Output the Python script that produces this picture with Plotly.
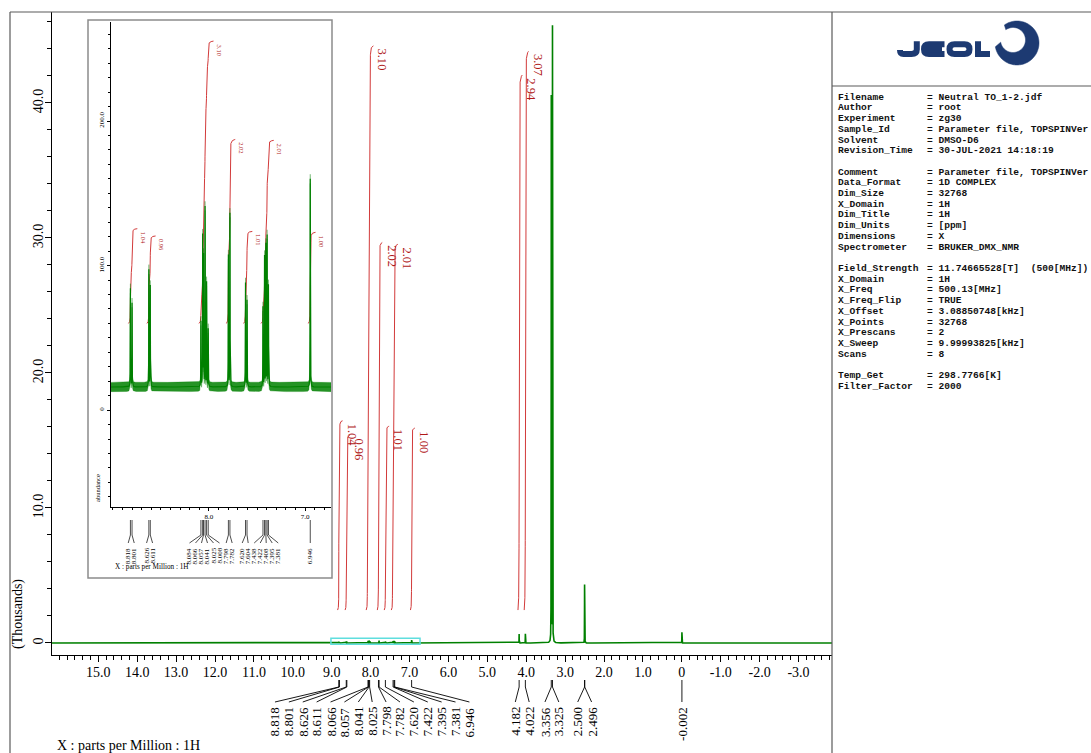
import numpy as np
import plotly.graph_objects as go

W, H = 1091, 753


def px(x):
    return x / W


def py(y):
    return 1 - y / H


# ---------------- data ----------------
# aromatic lines (ppm) and their heights in the expansion's abundance units
AROM_PPM = [8.818, 8.801, 8.626, 8.611, 8.084, 8.066, 8.057, 8.041, 8.025, 8.008,
            7.798, 7.782, 7.620, 7.604, 7.438, 7.422, 7.408, 7.395, 7.381, 6.946]
AROM_ABUND = [68, 58, 81, 70, 45, 104, 90, 124, 72, 40,
              91, 120, 72, 60, 55, 90, 98, 104, 70, 144]

# remaining lines (ppm) with heights in thousands
ALIPH_PPM = [4.182, 4.022, 3.356, 3.325, 2.500, 2.496, -0.002]
ALIPH_HEIGHT_K = [0.66, 0.68, 40.4, 45.6, 3.9, 3.5, 0.8]
ALIPH_HWHM = [0.0015, 0.0015, 0.002, 0.002, 0.0015, 0.0015, 0.0015]

# integral regions and values
INT_MEMBERS = [
    [8.818, 8.801],
    [8.626, 8.611],
    [8.084, 8.066, 8.057, 8.041, 8.025, 8.008],
    [7.798, 7.782],
    [7.620, 7.604],
    [7.438, 7.422, 7.408, 7.395, 7.381],
    [6.946],
    [4.182],
    [4.022],
]
INT_VALUES = [1.04, 0.96, 3.10, 2.02, 1.01, 2.01, 1.00, 2.94, 3.07]

# picked peaks labelled under the full spectrum
MAIN_PEAK_LABELS = [8.818, 8.801, 8.626, 8.611, 8.066, 8.057, 8.041, 8.025,
                    7.798, 7.782, 7.620, 7.422, 7.395, 7.381, 6.946,
                    4.182, 4.022, 3.356, 3.325, 2.500, 2.496, -0.002]
# picked peaks labelled under the expansion
INSET_PEAK_LABELS = AROM_PPM

# axis ticks
X_TICKS = [15, 14, 13, 12, 11, 10, 9, 8, 7, 6, 5, 4, 3, 2, 1, 0, -1, -2, -3]
X_TICK_TEXT = ["15.0", "14.0", "13.0", "12.0", "11.0", "10.0", "9.0", "8.0", "7.0",
               "6.0", "5.0", "4.0", "3.0", "2.0", "1.0", "0", "-1.0", "-2.0", "-3.0"]
Y_TICKS = [0, 10, 20, 30, 40]
Y_TICK_TEXT = ["0", "10.0", "20.0", "30.0", "40.0"]
INSET_X_TICKS = [8.0, 7.0]
INSET_X_TICK_TEXT = ["8.0", "7.0"]
INSET_Y_TICKS = [0, 100, 200]
INSET_Y_TICK_TEXT = ["0", "100.0", "200.0"]

PARAM_LINES = [
    ("Filename", "Neutral TO_1-2.jdf"),
    ("Author", "root"),
    ("Experiment", "zg30"),
    ("Sample_Id", "Parameter file, TOPSPINVer"),
    ("Solvent", "DMSO-D6"),
    ("Revision_Time", "30-JUL-2021 14:18:19"),
    None,
    ("Comment", "Parameter file, TOPSPINVer"),
    ("Data_Format", "1D COMPLEX"),
    ("Dim_Size", "32768"),
    ("X_Domain", "1H"),
    ("Dim_Title", "1H"),
    ("Dim_Units", "[ppm]"),
    ("Dimensions", "X"),
    ("Spectrometer", "BRUKER_DMX_NMR"),
    None,
    ("Field_Strength", "11.74665528[T]\u00a0 (500[MHz])"),
    ("X_Domain", "1H"),
    ("X_Freq", "500.13[MHz]"),
    ("X_Freq_Flip", "TRUE"),
    ("X_Offset", "3.08850748[kHz]"),
    ("X_Points", "32768"),
    ("X_Prescans", "2"),
    ("X_Sweep", "9.99993825[kHz]"),
    ("Scans", "8"),
    None,
    ("Temp_Get", "298.7766[K]"),
    ("Filter_Factor", "2000"),
]

# ---------------- settings ----------------
AROM_HWHM = 0.0012
ABUND_TO_K = 0.0015          # expansion abundance -> thousands
INSET_BASELINE = 16
INSET_NOISE = 3.2
MAIN_XRANGE = [16.19, -3.86]
MAIN_YRANGE = [-0.89, 46.74]
INSET_XRANGE = [9.02, 6.73]
INSET_YRANGE = [-67, 268.5]
INT_BASE_K, INT_UNIT_K = 2.44, 13.48
INT_BASE_AB, INT_UNIT_AB = 60, 63

GREEN = "rgb(0,128,0)"
RED_LINE = "#d23a3a"
RED_TEXT = "#b01818"
SERIF = "Liberation Serif"
MONO = "Liberation Mono"
NAVY = "#1d3a72"

# lookup table of every line: ppm -> (height in thousands, hwhm)
LINES = {}
for p, a in zip(AROM_PPM, AROM_ABUND):
    LINES[p] = (a * ABUND_TO_K, AROM_HWHM)
for p, h, w in zip(ALIPH_PPM, ALIPH_HEIGHT_K, ALIPH_HWHM):
    LINES[p] = (h, w)


def lorentz(x, c, h, w):
    return h * w * w / ((x - c) ** 2 + w * w)


def sample_grid(lo_hi, centers, n):
    grid = [np.linspace(lo_hi[0], lo_hi[1], n)]
    for c in centers:
        grid.append(c + np.linspace(-0.02, 0.02, 81))
        grid.append(np.array([c]))
    g = np.unique(np.concatenate(grid))
    g = g[(g <= max(lo_hi)) & (g >= min(lo_hi))]
    return g[::-1]


def integral_curve(members, value, base, unit, pad_hi, pad_lo):
    hi = max(members) + pad_hi
    lo = min(members) - pad_lo
    xs = np.linspace(hi, lo, 400)
    cum = np.zeros_like(xs)
    for c in members:
        h, w = LINES[c]
        cum += h * w * (np.arctan((hi - c) / w) - np.arctan((xs - c) / w))
    frac = cum / cum[-1]
    return xs, base + unit * value * frac, lo


def spread(values, gap):
    """Push label positions apart (ppm, descending) keeping each cluster centred."""
    q = [-v for v in values]
    order = sorted(range(len(q)), key=lambda i: q[i])
    groups = [[i] for i in order]

    def start(g):
        return float(np.mean([q[i] for i in g])) - gap * (len(g) - 1) / 2

    while True:
        changed = False
        merged = []
        for g in groups:
            if merged:
                prev = merged[-1]
                prev_end = start(prev) + gap * (len(prev) - 1)
                if start(g) < prev_end + gap - 1e-9:
                    merged[-1] = prev + g
                    changed = True
                    continue
            merged.append(g)
        groups = merged
        if not changed:
            break
    out = [0.0] * len(q)
    for g in groups:
        s = start(g)
        for k, i in enumerate(g):
            out[i] = -(s + gap * k)
    return out


fig = go.Figure()

# ---------------- full spectrum ----------------
ppm_main = sample_grid(MAIN_XRANGE, list(LINES.keys()), 6001)
y_main = np.zeros_like(ppm_main)
for c, (h, w) in LINES.items():
    y_main += lorentz(ppm_main, c, h, w)

fig.add_trace(go.Scatter(x=ppm_main, y=y_main, mode="lines",
                         line=dict(color=GREEN, width=1.6),
                         xaxis="x", yaxis="y", hoverinfo="skip", showlegend=False))

annotations = []
shapes = []

# integrals on the full spectrum
for members, val in zip(INT_MEMBERS, INT_VALUES):
    xs, ys, lo = integral_curve(members, val, INT_BASE_K, INT_UNIT_K, 0.03, 0.08)
    fig.add_trace(go.Scatter(x=xs, y=ys, mode="lines",
                             line=dict(color=RED_LINE, width=1),
                             xaxis="x", yaxis="y", hoverinfo="skip", showlegend=False))
    annotations.append(dict(x=lo, y=ys[-1], xref="x", yref="y", text=f"{val:.2f}",
                            showarrow=False, textangle=90, xanchor="left", yanchor="top",
                            yshift=-1, font=dict(family=SERIF, size=12.5, color=RED_TEXT)))

# ---------------- expansion ----------------
ppm_in = sample_grid(INSET_XRANGE, AROM_PPM, 3001)
y_in = np.full_like(ppm_in, float(INSET_BASELINE))
for c in AROM_PPM:
    h, w = LINES[c]
    y_in += lorentz(ppm_in, c, h / ABUND_TO_K, w)

for members, val in zip(INT_MEMBERS, INT_VALUES):
    if min(members) < INSET_XRANGE[1]:
        continue
    xs, ys, lo = integral_curve(members, val, INT_BASE_AB, INT_UNIT_AB, 0.02, 0.055)
    fig.add_trace(go.Scatter(x=xs, y=ys, mode="lines",
                             line=dict(color=RED_LINE, width=1),
                             xaxis="x2", yaxis="y2", hoverinfo="skip", showlegend=False))
    annotations.append(dict(x=lo, y=ys[-1], xref="x2", yref="y2", text=f"{val:.2f}",
                            showarrow=False, textangle=90, xanchor="left", yanchor="top",
                            yshift=-1, font=dict(family=SERIF, size=6.5, color=RED_TEXT)))

# noise envelope of the expansion trace
fig.add_trace(go.Scatter(x=np.concatenate([ppm_in, ppm_in[::-1]]),
                         y=np.concatenate([y_in + INSET_NOISE, (y_in - INSET_NOISE)[::-1]]),
                         mode="lines", fill="toself", fillcolor="rgba(0,128,0,0.85)",
                         line=dict(color="rgba(0,128,0,0.6)", width=0.5),
                         xaxis="x2", yaxis="y2", hoverinfo="skip", showlegend=False))
fig.add_trace(go.Scatter(x=ppm_in, y=y_in, mode="lines",
                         line=dict(color=GREEN, width=1.2),
                         xaxis="x2", yaxis="y2", hoverinfo="skip", showlegend=False))

# ---------------- peak labels under the full spectrum ----------------
main_pos = spread(MAIN_PEAK_LABELS, 0.357)
for p, lp in zip(MAIN_PEAK_LABELS, main_pos):
    shapes.append(dict(type="line", xref="x", yref="paper", x0=p, x1=p,
                       y0=py(680), y1=py(687), line=dict(color="black", width=0.9)))
    shapes.append(dict(type="line", xref="x", yref="paper", x0=p, x1=lp,
                       y0=py(687), y1=py(702), line=dict(color="black", width=0.9)))
    annotations.append(dict(x=lp, y=py(705), xref="x", yref="paper", text=f"{p:.3f}",
                            showarrow=False, textangle=-90, xanchor="center", yanchor="top",
                            font=dict(family=SERIF, size=13, color="black")))

# ---------------- peak labels under the expansion ----------------
inset_pos = spread(INSET_PEAK_LABELS, 0.0625)
for p, lp in zip(INSET_PEAK_LABELS, inset_pos):
    shapes.append(dict(type="line", xref="x2", yref="paper", x0=p, x1=p,
                       y0=py(520), y1=py(535), line=dict(color="black", width=0.7)))
    shapes.append(dict(type="line", xref="x2", yref="paper", x0=p, x1=lp,
                       y0=py(535), y1=py(543), line=dict(color="black", width=0.7)))
    annotations.append(dict(x=lp, y=py(546), xref="x2", yref="paper", text=f"{p:.3f}",
                            showarrow=False, textangle=-90, xanchor="center", yanchor="top",
                            font=dict(family=SERIF, size=7, color="black")))

# expansion region marker on the full spectrum
shapes.append(dict(type="rect", xref="x", yref="y", x0=INSET_XRANGE[0], x1=INSET_XRANGE[1],
                   y0=-0.1, y1=0.35, line=dict(color="#5fdede", width=1.5)))

# expansion frame
shapes.append(dict(type="rect", xref="paper", yref="paper", x0=px(88), x1=px(332),
                   y0=py(578), y1=py(20), line=dict(color="#8c8c8c", width=1.5),
                   fillcolor="white", layer="below"))

# page frame and header panel
frame = "#5a5a5a"
for (x0, y0, x1, y1) in [(10, 12, 10, 753), (10, 12, 1091, 12),
                         (832, 12, 832, 753), (832, 86, 1091, 86)]:
    shapes.append(dict(type="line", xref="paper", yref="paper",
                       x0=px(x0), y0=py(y0), x1=px(x1), y1=py(y1),
                       line=dict(color=frame, width=1.2)))


# ---------------- logo ----------------
def path_px(cmds, close=False):
    parts = []
    for cmd in cmds:
        op, pts = cmd[0], cmd[1:]
        parts.append(op + " " + " ".join(f"{px(x):.5f},{py(y):.5f}" for x, y in pts))
    s = " ".join(parts)
    return s + (" Z" if close else "")


letter_paths = [
    # J
    [("M", (916.8, 41.2)), ("L", (916.8, 49.5)), ("Q", (916.8, 54.0), (911.5, 54.0)),
     ("L", (903.5, 54.0)), ("Q", (900.0, 54.0), (900.0, 50.0))],
    # E
    [("M", (944.5, 44.3)), ("L", (929.0, 44.3)), ("Q", (924.0, 44.3), (924.0, 49.2)),
     ("Q", (924.0, 54.0), (929.0, 54.0)), ("L", (944.5, 54.0))],
    [("M", (926.0, 49.2)), ("L", (942.0, 49.2))],
    # O
    [("M", (954.5, 44.3)), ("L", (964.5, 44.3)), ("Q", (969.5, 44.3), (969.5, 49.2)),
     ("Q", (969.5, 54.0), (964.5, 54.0)), ("L", (954.5, 54.0)),
     ("Q", (949.5, 54.0), (949.5, 49.2)), ("Q", (949.5, 44.3), (954.5, 44.3))],
    # L
    [("M", (978.0, 41.2)), ("L", (978.0, 54.0)), ("L", (990.0, 54.0))],
]
for cmds in letter_paths:
    shapes.append(dict(type="path", xref="paper", yref="paper",
                       path=path_px(cmds, close=(len(cmds) > 6)),
                       line=dict(color=NAVY, width=6)))

ang = np.radians(np.linspace(125, -170, 90))
outer = [(1017 + 22 * np.cos(a), 43 - 22 * np.sin(a)) for a in ang]
inner = [(1013 + 12.5 * np.cos(a), 40 - 12.5 * np.sin(a)) for a in ang[::-1]]
ring = [("M", outer[0])] + [("L", p) for p in outer[1:]] + [("L", p) for p in inner]
shapes.append(dict(type="path", xref="paper", yref="paper", path=path_px(ring, close=True),
                   fillcolor=NAVY, line=dict(color=NAVY, width=0.5)))

# ---------------- parameter listing ----------------
for i, item in enumerate(PARAM_LINES):
    if item is None:
        continue
    key, val = item
    yy = py(97.3 + 10.7 * i)
    annotations.append(dict(x=px(836), y=yy, xref="paper", yref="paper", text=f"<b>{key}</b>",
                            showarrow=False, xanchor="left", yanchor="middle",
                            font=dict(family=MONO, size=9.6, color="#111111")))
    annotations.append(dict(x=px(925), y=yy, xref="paper", yref="paper",
                            text=f"<b>= {val}</b>",
                            showarrow=False, xanchor="left", yanchor="middle",
                            font=dict(family=MONO, size=9.6, color="#111111")))

# ---------------- axis titles ----------------
annotations.append(dict(x=px(18), y=py(614), xref="paper", yref="paper", text="(Thousands)",
                        showarrow=False, textangle=-90, xanchor="center", yanchor="middle",
                        font=dict(family=SERIF, size=14, color="black")))
annotations.append(dict(x=px(55), y=py(745), xref="paper", yref="paper",
                        text="X : parts per Million : 1H", showarrow=False,
                        xanchor="left", yanchor="middle",
                        font=dict(family=SERIF, size=14, color="black")))
annotations.append(dict(x=px(113), y=py(567), xref="paper", yref="paper",
                        text="X : parts per Million : 1H", showarrow=False,
                        xanchor="left", yanchor="middle",
                        font=dict(family=SERIF, size=7.2, color="black")))
annotations.append(dict(x=px(97), y=py(488), xref="paper", yref="paper", text="abundance",
                        showarrow=False, textangle=-90, xanchor="center", yanchor="middle",
                        font=dict(family=SERIF, size=6.5, color="black")))

axis_common = dict(showgrid=False, zeroline=False, showline=True, linecolor="black",
                   linewidth=1, ticks="outside", tickcolor="black", fixedrange=True)

fig.update_layout(
    width=W, height=H, autosize=False,
    margin=dict(l=0, r=0, t=0, b=0),
    paper_bgcolor="white", plot_bgcolor="white",
    showlegend=False,
    xaxis=dict(domain=[px(52), px(832)], range=MAIN_XRANGE, anchor="y",
               tickmode="array", tickvals=X_TICKS, ticktext=X_TICK_TEXT, ticklen=6,
               ticklabelstandoff=-2,
               tickfont=dict(family=SERIF, size=14, color="black"),
               minor=dict(tickmode="linear", tick0=0, dtick=0.2, ticks="outside",
                          ticklen=4, tickcolor="black"),
               **axis_common),
    yaxis=dict(domain=[py(655), py(12)], range=MAIN_YRANGE, anchor="x",
               tickmode="array", tickvals=Y_TICKS, ticktext=Y_TICK_TEXT, ticklen=6,
               tickangle=-90, ticklabelstandoff=-4,
               tickfont=dict(family=SERIF, size=14, color="black"),
               minor=dict(tickmode="linear", tick0=0, dtick=2, ticks="outside",
                          ticklen=4, tickcolor="black"),
               **axis_common),
    xaxis2=dict(domain=[px(111), px(331)], range=INSET_XRANGE, anchor="y2",
                tickmode="array", tickvals=INSET_X_TICKS, ticktext=INSET_X_TICK_TEXT,
                ticklen=3, tickfont=dict(family=SERIF, size=7, color="black"),
                minor=dict(tickmode="linear", tick0=0, dtick=0.1, ticks="outside",
                           ticklen=2, tickcolor="black"),
                **axis_common),
    yaxis2=dict(domain=[py(507), py(22)], range=INSET_YRANGE, anchor="x2",
                tickmode="array", tickvals=INSET_Y_TICKS, ticktext=INSET_Y_TICK_TEXT,
                ticklen=3, tickangle=-90,
                tickfont=dict(family=SERIF, size=7, color="black"),
                minor=dict(tickmode="linear", tick0=0, dtick=10, ticks="outside",
                           ticklen=2, tickcolor="black"),
                **axis_common),
    annotations=annotations,
    shapes=shapes,
)

fig.write_html("out.html")
